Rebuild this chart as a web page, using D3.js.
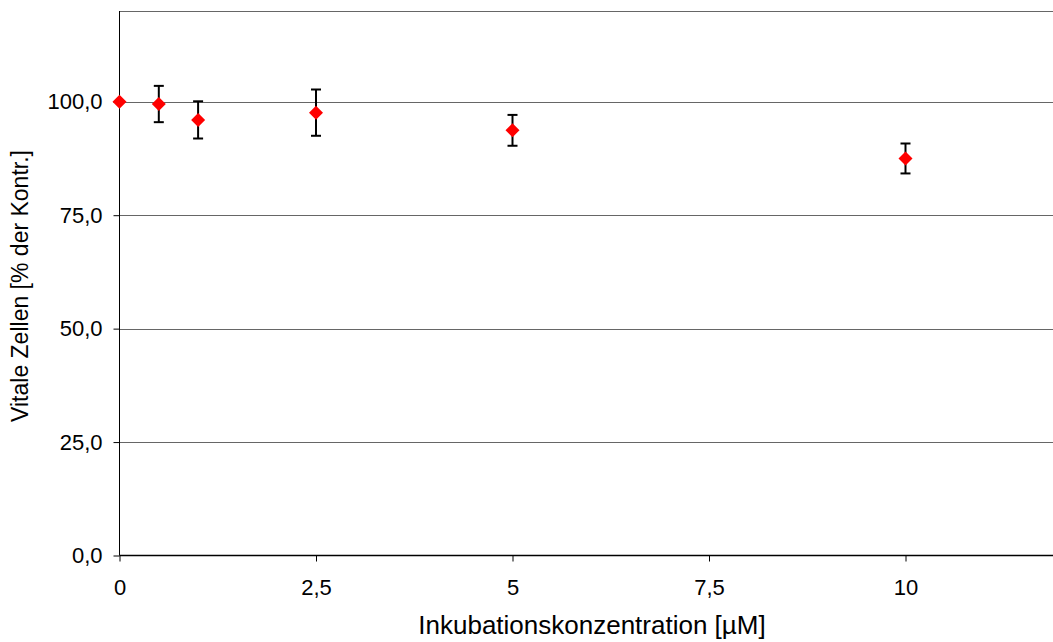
<!DOCTYPE html>
<html>
<head>
<meta charset="utf-8">
<script src="https://cdn.jsdelivr.net/npm/d3@7"></script>
<style>
  html, body { margin: 0; padding: 0; background: #fff; }
  svg { display: block; font-family: "Liberation Sans", Arial, sans-serif; }
</style>
</head>
<body>
<svg id="chart" width="1053" height="642"></svg>
<script>
// Data
const concentrations = [0, 0.5, 1, 2.5, 5, 10];
const viability = [100, 99.5, 96.0, 97.6, 93.7, 87.5];
const errors = [0, 4.0, 4.1, 5.1, 3.4, 3.3];
const yTicks = [0, 25, 50, 75, 100];
const xTicks = [0, 2.5, 5, 7.5, 10];
const yTickLabels = ["0,0", "25,0", "50,0", "75,0", "100,0"];
const xTickLabels = ["0", "2,5", "5", "7,5", "10"];
const xTitle = "Inkubationskonzentration [µM]";
const yTitle = "Vitale Zellen [% der Kontr.]";

const svg = d3.select("#chart");
const plotLeft = 119.5, plotTop = 11, plotBottom = 555.5;
const x = d3.scaleLinear().domain([0, 12]).range([plotLeft, plotLeft + 12 * 78.6]);
const y = d3.scaleLinear().domain([0, 120]).range([plotBottom, plotTop]);
const rightEdge = 1053;

// Gridlines (including top at 120)
svg.append("g").selectAll("line").data(yTicks.slice(1).concat([120])).join("line")
  .attr("x1", plotLeft).attr("x2", rightEdge)
  .attr("y1", d => Math.round(y(d)) + 0.5).attr("y2", d => Math.round(y(d)) + 0.5)
  .attr("stroke", "#666").attr("stroke-width", 1);

// Y axis
const yAxis = d3.axisLeft(y).tickValues(yTicks).tickSize(6).tickPadding(11)
  .tickFormat((d, i) => yTickLabels[i]);
const gy = svg.append("g").attr("transform", `translate(${plotLeft},0)`).call(yAxis);
gy.select(".domain").attr("d", `M0,${plotTop}V${plotBottom}`).attr("stroke", "#000");
gy.selectAll(".tick line").attr("stroke", "#000");
gy.selectAll(".tick text").attr("font-size", 22).attr("fill", "#000")
  .attr("font-family", "Liberation Sans, Arial, sans-serif");

// X axis
const xAxis = d3.axisBottom(x).tickValues(xTicks).tickSize(6).tickPadding(18)
  .tickFormat((d, i) => xTickLabels[i]);
const gx = svg.append("g").attr("transform", `translate(0,${plotBottom})`).call(xAxis);
gx.select(".domain").attr("d", `M${plotLeft},0H${rightEdge}`).attr("stroke", "#000").attr("stroke-width", 1.5);
gx.selectAll(".tick line").attr("stroke", "#000");
gx.selectAll(".tick text").attr("font-size", 22).attr("fill", "#000")
  .attr("font-family", "Liberation Sans, Arial, sans-serif");

// Error bars
const data = concentrations.map((c, i) => ({c, v: viability[i], e: errors[i]}));
const eb = svg.append("g").attr("stroke", "#000").attr("stroke-width", 2);
data.filter(d => d.e > 0).forEach(d => {
  const cx = x(d.c);
  eb.append("line").attr("x1", cx).attr("x2", cx).attr("y1", y(d.v + d.e)).attr("y2", y(d.v - d.e));
  eb.append("line").attr("x1", cx - 5).attr("x2", cx + 5).attr("y1", y(d.v + d.e)).attr("y2", y(d.v + d.e));
  eb.append("line").attr("x1", cx - 5).attr("x2", cx + 5).attr("y1", y(d.v - d.e)).attr("y2", y(d.v - d.e));
});

// Markers
svg.append("g").selectAll("path").data(data).join("path")
  .attr("transform", d => `translate(${x(d.c)},${y(d.v)})`)
  .attr("d", "M0,-7L7,0L0,7L-7,0Z")
  .attr("fill", "#ff0000");

// Titles
svg.append("text").attr("x", 592).attr("y", 634).attr("text-anchor", "middle")
  .attr("font-size", 26).attr("fill", "#000").text(xTitle);
svg.append("text").attr("transform", "translate(28,286) rotate(-90)").attr("text-anchor", "middle")
  .attr("font-size", 23).attr("fill", "#000").text(yTitle);
</script>
</body>
</html>
